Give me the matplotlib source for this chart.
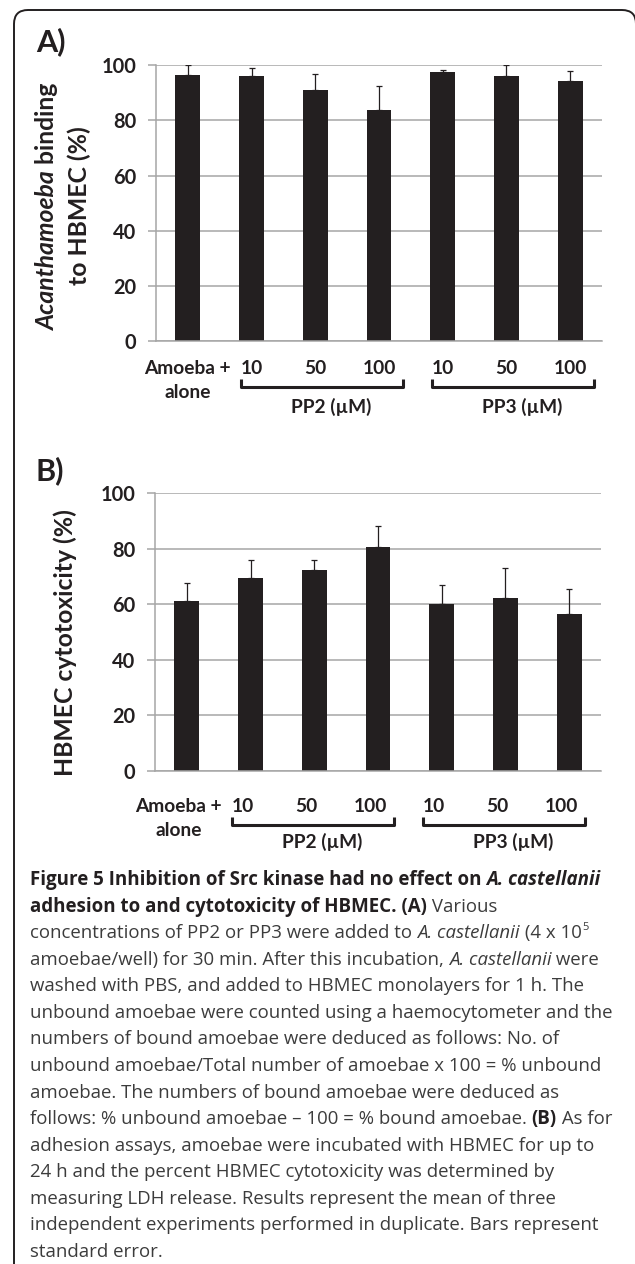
import numpy as np
import matplotlib
matplotlib.use('Agg')
import matplotlib.pyplot as plt
import matplotlib.transforms as mtransforms
from matplotlib.patches import FancyBboxPatch
from matplotlib.lines import Line2D

# ---------------- data ----------------
categories = ['Amoeba +\nalone', '10', '50', '100', '10', '50', '100']
group_names = ['PP2 (µM)', 'PP3 (µM)']
group_members = [[1, 2, 3], [4, 5, 6]]

binding_mean = [96.5, 95.9, 90.8, 83.7, 97.4, 95.9, 94.3]
binding_err = [3.5, 2.9, 5.8, 8.6, 0.7, 4.0, 3.6]

cytotox_mean = [61.3, 69.4, 72.5, 80.5, 60.0, 62.2, 56.7]
cytotox_err = [6.4, 6.5, 3.5, 7.7, 7.0, 10.8, 8.7]

y_ticks = [0, 20, 40, 60, 80, 100]

# ---------------- layout helpers ----------------
W, H = 635, 1264
DPI = 100
fig = plt.figure(figsize=(W / DPI, H / DPI), dpi=DPI)
renderer = fig.canvas.get_renderer()

CHART_FONT = ['Lato', 'DejaVu Sans']
CAP_FONT = ['Open Sans', 'DejaVu Sans']
DARK = '#231f20'
GRID = '#a6a6a6'
CAP_GRAY = '#3c3c3c'

plt.rcParams['font.family'] = CHART_FONT


def fx(x):
    return x / W


def fy(y):
    return 1 - y / H


def fit_size(text, target_px, **kw):
    t = fig.text(0, 0, text, fontsize=10, **kw)
    w = t.get_window_extent(renderer).width
    t.remove()
    return 10 * target_px / w


chart_size = fit_size('Amoeba +', 87, family=CHART_FONT, weight='bold')
label_size = fit_size('HBMEC cytotoxicity (%)', 267, family=CHART_FONT, weight='bold')


def make_panel(rect_px, means, errs, dx_px, off):
    left, top, right, bottom = rect_px
    ax = fig.add_axes([fx(left), fy(bottom), (right - left) / W, (bottom - top) / H])
    x = np.arange(len(categories))
    ax.bar(x, means, width=0.39, color=DARK, zorder=2)
    ax.errorbar(x, means, yerr=[np.zeros(len(errs)), errs], fmt='none',
                ecolor=DARK, elinewidth=0.9, capsize=2.3, capthick=0.9, zorder=3)
    ax.set_xlim(-0.5, len(categories) - 0.5)
    ax.set_ylim(0, 100)
    ax.set_yticks(y_ticks)
    ax.set_yticklabels([str(v) for v in y_ticks])
    ax.set_xticks([])
    ax.yaxis.grid(True, color=GRID, lw=1.1)
    ax.set_axisbelow(True)
    for s in ['top', 'right']:
        ax.spines[s].set_visible(False)
    for s in ['left', 'bottom']:
        ax.spines[s].set_color(GRID)
        ax.spines[s].set_linewidth(1.1)
    ax.tick_params(axis='y', length=6, width=1.1, color=GRID, pad=8,
                   labelsize=chart_size * 1.04, labelcolor=DARK)
    for lbl in ax.get_yticklabels():
        lbl.set_fontweight('bold')

    base = mtransforms.blended_transform_factory(ax.transData, fig.transFigure)
    tr = mtransforms.offset_copy(base, fig=fig, x=dx_px, y=0, units='dots')
    row1, row2, br_top, br_bot, grp_y = [bottom + o for o in off]

    for i, cat in enumerate(categories):
        lines = cat.split('\n')
        for j, ln in enumerate(lines):
            yy = row1 if j == 0 else row2
            ax.text(i, fy(yy), ln, transform=tr, ha='center', va='center',
                    fontsize=chart_size, fontweight='bold', color=DARK)

    for name, mem in zip(group_names, group_members):
        x0 = mem[0] - 0.17
        x1 = mem[-1] + 0.38
        ln = Line2D([x0, x0, x1, x1], [fy(br_top), fy(br_bot), fy(br_bot), fy(br_top)],
                    transform=tr, color=DARK, lw=2.2, solid_joinstyle='round',
                    solid_capstyle='butt', clip_on=False)
        fig.add_artist(ln)
        ax.text(np.mean(mem) + 0.25, fy(grp_y), name, transform=tr, ha='center',
                va='center', fontsize=chart_size, fontweight='bold', color=DARK)
    return ax


axA = make_panel((156, 65, 602, 341.5), binding_mean, binding_err, 0,
                 (26.5, 50.5, 37, 45, 65.5))
axB = make_panel((155, 493.3, 601, 771), cytotox_mean, cytotox_err, -8,
                 (35, 59, 46, 54, 71))

# panel letters
fig.text(fx(36), fy(42), 'A)', fontsize=22, fontweight='bold', color=DARK,
         ha='left', va='center')
fig.text(fx(36), fy(471), 'B)', fontsize=22, fontweight='bold', color=DARK,
         ha='left', va='center')


# rotated y labels (pieces placed from bottom to top)
def rotated_line(xc, yc, segments, size):
    widths = []
    for txt, st in segments:
        t = fig.text(0, 0, txt, fontsize=size, rotation=90, **st)
        widths.append(t.get_window_extent(renderer).height)
        t.remove()
    total = sum(widths)
    y = yc + total / 2
    for (txt, st), w in zip(segments, widths):
        fig.text(fx(xc), fy(y), txt, fontsize=size, rotation=90,
                 rotation_mode='anchor', ha='left', va='center', color=DARK, **st)
        y -= w


rotated_line(47, 206, [('Acanthamoeba', dict(weight='bold', style='italic')),
                       (' binding', dict(weight='bold'))], label_size)
rotated_line(79, 206, [('to HBMEC (%)', dict(weight='bold'))], label_size)
rotated_line(65, 643, [('HBMEC cytotoxicity (%)', dict(weight='bold'))], label_size)

# ---------------- caption ----------------
reg_size = fit_size('unbound amoebae were counted using a haemocytometer and the', 583,
                    family=CAP_FONT)
bold_size = fit_size('Figure 5 Inhibition of Src kinase had no effect on A. castellanii', 577,
                     family=CAP_FONT, weight='bold')

R = dict(family=CAP_FONT, color=CAP_GRAY)
RI = dict(family=CAP_FONT, color=CAP_GRAY, style='italic')
B = dict(family=CAP_FONT, color=DARK, weight='bold')
BI = dict(family=CAP_FONT, color=DARK, weight='bold', style='italic')

caption_lines = [
    [('Figure 5 Inhibition of Src kinase had no effect on ', B), ('A. castellanii', BI)],
    [('adhesion to and cytotoxicity of HBMEC. (A)', B), (' Various', R)],
    [('concentrations of PP2 or PP3 were added to ', R), ('A. castellanii', RI),
     (' (4 x 10', R), ('SUP5', R)],
    [('amoebae/well) for 30 min. After this incubation, ', R), ('A. castellanii', RI),
     (' were', R)],
    [('washed with PBS, and added to HBMEC monolayers for 1 h. The', R)],
    [('unbound amoebae were counted using a haemocytometer and the', R)],
    [('numbers of bound amoebae were deduced as follows: No. of', R)],
    [('unbound amoebae/Total number of amoebae x 100 = % unbound', R)],
    [('amoebae. The numbers of bound amoebae were deduced as', R)],
    [('follows: % unbound amoebae – 100 = % bound amoebae. ', R), ('(B)', B), (' As for', R)],
    [('adhesion assays, amoebae were incubated with HBMEC for up to', R)],
    [('24 h and the percent HBMEC cytotoxicity was determined by', R)],
    [('measuring LDH release. Results represent the mean of three', R)],
    [('independent experiments performed in duplicate. Bars represent', R)],
    [('standard error.', R)],
]

y0 = 885
dy = 26.57
for k, segs in enumerate(caption_lines):
    x = 30
    yb = y0 + k * dy
    for txt, st in segs:
        size = bold_size if st.get('weight') == 'bold' else reg_size
        if txt.startswith('SUP'):
            t = fig.text(fx(x + 1), fy(yb - 8), txt[3:], fontsize=size * 0.6,
                         ha='left', va='baseline', **st)
        else:
            t = fig.text(fx(x), fy(yb), txt, fontsize=size, ha='left', va='baseline', **st)
        x += t.get_window_extent(renderer).width

# ---------------- rounded frame ----------------
frame = FancyBboxPatch((14, -60), 636 - 14, (H - 10) + 60,
                       boxstyle='round,pad=0,rounding_size=14',
                       transform=mtransforms.IdentityTransform(),
                       facecolor='none', edgecolor=DARK, lw=1.4)
fig.add_artist(frame)

fig.savefig('out.png', dpi=DPI)
